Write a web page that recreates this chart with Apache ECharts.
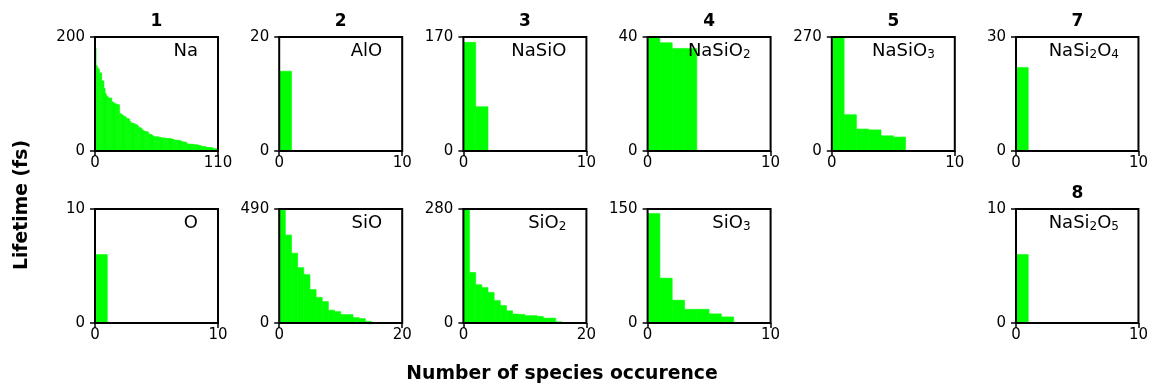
<!DOCTYPE html>
<html><head><meta charset="utf-8">
<script src="https://cdn.jsdelivr.net/npm/echarts@6/dist/echarts.min.js"></script>
<style>html,body{margin:0;padding:0;background:#fff}#c{width:1151px;height:386px}</style>
</head><body><div id="c"></div>
<script>
// ---- data ----
const naValues = [180,150,146,143,137,137,123,123,110,101,97,95,93,93,93,86,86,83,83,82,81,81,66,65,63,62,60,60,57,57,56,52,49,49,48,48,46,46,44,41,41,40,37,36,34,34,34,33,30,29,29,27,26,25,25,25,25,24,24,23,23,23,23,22,22,22,22,22,21,21,20,19,19,19,19,18,18,17,16,16,16,15,13,12,12,12,12,12,11,11,11,11,10,10,9,8,8,8,8,7,6,6,6,6,6,5,4,4,4,4];
const aloValues = [14];
const nasioValues = [162, 66];
const nasio2Values = [40, 38, 36, 36];
const nasio3Values = [270, 86, 52, 50, 36, 33];
const nasi2o4Values = [22];
const oValues = [6];
const sioValues = [490, 378, 300, 238, 208, 144, 110, 92, 55, 49, 36, 36, 23, 19, 7];
const sio2Values = [280, 124, 94, 87, 75, 55, 43, 30, 22, 21, 18, 18, 16, 12, 12, 3];
const sio3Values = [144, 59, 30, 18, 18, 12, 8];
const nasi2o5Values = [6];

const panelValues = [naValues, aloValues, nasioValues, nasio2Values, nasio3Values, nasi2o4Values,
                     oValues, sioValues, sio2Values, sio3Values, nasi2o5Values];
const panelNumbers = ['1','2','3','4','5','7','','','','','8'];
const speciesNames = ['Na','AlO','NaSiO','NaSiO_2','NaSiO_3','NaSi_2O_4','O','SiO','SiO_2','SiO_3','NaSi_2O_5'];
const xMaxTicks = [110,10,10,10,10,10,10,20,20,10,10];
const yMaxTicks = [200,20,170,40,270,30,10,490,280,150,10];
const xAxisTitle = 'Number of species occurence';
const yAxisTitle = 'Lifetime (fs)';

// ---- layout ----
const panelPos = [[0,0],[0,1],[0,2],[0,3],[0,4],[0,5],[1,0],[1,1],[1,2],[1,3],[1,5]];
const FONT = 'DejaVu Sans';
const colLeft = c => 95 + c * 184.2;
const rowTop = [37, 209];
const GW = 123, GH = 114;

function toRich(name) {
  let out = '';
  const re = /_(\d)|([^_]+?)(?=_\d|$)/g;
  let m;
  while ((m = re.exec(name)) !== null) {
    if (m[1]) out += '{s|' + m[1] + '}';
    else if (m[2]) out += '{n|' + m[2] + '}';
  }
  return out;
}

const grids = [], xAxes = [], yAxes = [], series = [], graphics = [];
panelValues.forEach((vals, i) => {
  const [r, c] = panelPos[i];
  const left = colLeft(c), top = rowTop[r];
  grids.push({left: left, top: top, width: GW, height: GH, show: true, z: 10,
    borderColor: '#000', borderWidth: 2, backgroundColor: 'rgba(0,0,0,0)', containLabel: false});
  xAxes.push({type: 'value', gridIndex: i, min: 0, max: xMaxTicks[i], interval: xMaxTicks[i],
    splitLine: {show: false}, axisLine: {show: false},
    axisTick: {show: true, length: 5, lineStyle: {color: '#000', width: 1.5}},
    axisLabel: {color: '#000', fontSize: 15, fontFamily: FONT, margin: 5, showMinLabel: true, showMaxLabel: true}});
  yAxes.push({type: 'value', gridIndex: i, min: 0, max: yMaxTicks[i], interval: yMaxTicks[i],
    splitLine: {show: false}, axisLine: {show: false},
    axisTick: {show: true, length: 5, lineStyle: {color: '#000', width: 1.5}},
    axisLabel: {color: '#000', fontSize: 15, fontFamily: FONT, margin: 10, showMinLabel: true, showMaxLabel: true}});
  series.push({type: 'custom', xAxisIndex: i, yAxisIndex: i, z: 2,
    data: vals.map((v, k) => [k, v]),
    renderItem: function (params, api) {
      const x = api.value(0), v = api.value(1);
      const p0 = api.coord([x, 0]);
      const p1 = api.coord([x + 1, v]);
      const cs = params.coordSys;
      const rect = echarts.graphic.clipRectByRect(
        {x: p0[0], y: p1[1], width: p1[0] - p0[0], height: p0[1] - p1[1]},
        {x: cs.x, y: cs.y, width: cs.width, height: cs.height});
      return rect && {type: 'rect', shape: rect,
        style: {fill: '#00ff00', stroke: '#00ff00', lineWidth: 0.6}};
    }});
  if (panelNumbers[i]) {
    graphics.push({type: 'text', x: left + GW / 2, y: top - 15, z: 20,
      style: {text: panelNumbers[i], align: 'center', verticalAlign: 'middle',
        font: 'bold 17px "' + FONT + '"', fill: '#000'}});
  }
  graphics.push({type: 'text', x: left + 103, y: top + 12, z: 20,
    style: {text: toRich(speciesNames[i]), align: 'right', verticalAlign: 'middle', fill: '#000',
      rich: {
        n: {fontSize: 18, fontFamily: FONT, lineHeight: 23, fill: '#000', verticalAlign: 'bottom'},
        s: {fontSize: 12, fontFamily: FONT, lineHeight: 12, fill: '#000', verticalAlign: 'bottom'}
      }}});
});

graphics.push({type: 'text', x: 562, y: 374, z: 20,
  style: {text: xAxisTitle, align: 'center', verticalAlign: 'middle', font: 'bold 18.8px "' + FONT + '"', fill: '#000'}});
graphics.push({type: 'text', x: 22, y: 205, rotation: Math.PI / 2, z: 20,
  style: {text: yAxisTitle, align: 'center', verticalAlign: 'middle', font: 'bold 18.8px "' + FONT + '"', fill: '#000'}});

const chart = echarts.init(document.getElementById('c'), null, {renderer: 'canvas'});
chart.setOption({
  animation: false,
  backgroundColor: '#fff',
  textStyle: {fontFamily: FONT},
  grid: grids, xAxis: xAxes, yAxis: yAxes, series: series,
  graphic: graphics
});
</script>
</body></html>
